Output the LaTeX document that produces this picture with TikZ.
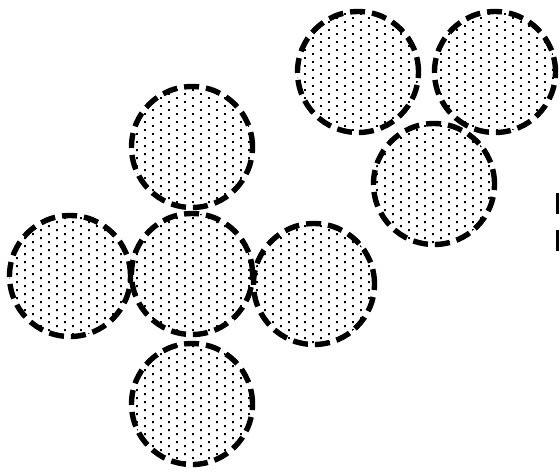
\documentclass[tikz,border=0pt]{standalone}
\usetikzlibrary{patterns}
\pgfdeclarepatternformonly{dotgrid}{\pgfpoint{-1pt}{-1pt}}{\pgfpoint{15pt}{7pt}}{\pgfpoint{16pt}{8pt}}{%
  \pgfpathrectangle{\pgfpointorigin}{\pgfpoint{1.8pt}{1.8pt}}%
  \pgfpathrectangle{\pgfpoint{8pt}{4pt}}{\pgfpoint{1.8pt}{1.8pt}}%
  \pgfusepath{fill}%
}
\tikzset{
  disc/.style={circle,minimum size=121pt,inner sep=0pt,
    line width=5.4pt,dash pattern=on 15pt off 7pt,
    pattern=dotgrid,draw=black}
}
\begin{document}
\begin{tikzpicture}[x=1pt,y=-1pt]
\useasboundingbox (0,0) rectangle (560,475);
% cross of five
\node[disc] (crossleft) at (70,276) {};
\node[disc] (crossright) at (314,284) {};
\node[disc] (crosstop) at (192,147) {};
\node[disc] (crossbottom) at (192,404) {};
\node[disc] (crossmid) at (192,274) {};
% group of three
\node[disc] (pairleft) at (358,72) {};
\node[disc] (pairright) at (495,72) {};
\node[disc] (pairlow) at (434,184) {};
% clipped marks at the right edge
\draw[line width=3pt] (557.5,193) -- (557.5,214);
\draw[line width=3pt] (557.5,230) -- (557.5,251);
\end{tikzpicture}
\end{document}
